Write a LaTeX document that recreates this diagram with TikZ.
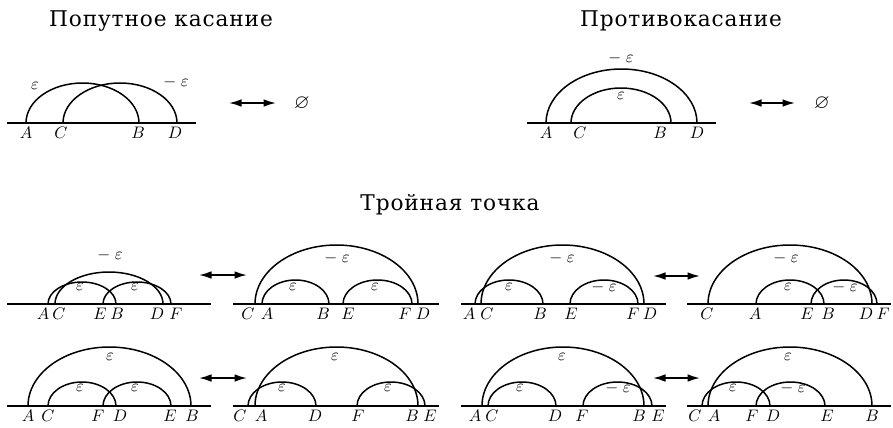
\documentclass[tikz,border=0pt]{standalone}
\usepackage{fontspec}
\usepackage{amsmath,amssymb}
\usetikzlibrary{arrows.meta,calc}
\newfontfamily\rufont{DejaVu Serif}[LetterSpace=4]
\newcommand{\halfarc}[3]{%
  \draw[curve] let \p1=(#1), \p2=(#2) in
    (#1) arc[start angle=180, end angle=0, x radius={0.5*(\x2-\x1)}, y radius={#3*0.6pt}];}
\newcommand{\me}{$-\;\varepsilon$}

\begin{document}
\begin{tikzpicture}[x=0.6pt, y=0.6pt,
  base/.style={line width=0.9pt},
  curve/.style={line width=0.9pt},
  lab/.style={anchor=north, inner sep=0pt},
  eps/.style={inner sep=0pt},
  nil/.style={inner sep=0pt, font=\large},
  swap/.style={{Latex[length=7.5pt,width=4.6pt]}-{Latex[length=7.5pt,width=4.6pt]},
    line width=1pt},
  title/.style={font=\rufont\fontsize{13}{16}\selectfont, anchor=base}]
\useasboundingbox (0,0) rectangle (893,427);

\node[title] (ttlA) at (161,401) {Попутное касание};
\node[title] (ttlB) at (681,401) {Противокасание};
\node[title] (ttlC) at (450,217) {Тройная точка};

\begin{scope}[shift={(0,304)}]
\draw[base] (7,0) -- (196,0);
\foreach \n/\x/\lx in {A/26/26, C/63/61, B/139/138, D/177/175} {
  \coordinate (tl\n) at (\x,0);
  \node[lab] (tl\n-lab) at (\lx,-4) {$\n$};
}
\halfarc{tlA}{tlB}{40}
\halfarc{tlC}{tlD}{40}
\node[eps] (tl-e1) at (35,37) {$\varepsilon$};
\node[eps] (tl-e2) at (176,41) {\me};
\coordinate (swA1) at (229,20);
\coordinate (swA2) at (276,20);
\draw[swap] (swA1) -- (swA2);
\node[nil] (nilA) at (302,20) {$\varnothing$};

\draw[base] (527,0) -- (716,0);
\foreach \n/\x/\lx in {A/546/546, C/571/580, B/671/660, D/697/697} {
  \coordinate (tr\n) at (\x,0);
  \node[lab] (tr\n-lab) at (\lx,-4) {$\n$};
}
\halfarc{trA}{trD}{54}
\halfarc{trC}{trB}{35}
\node[eps] (tr-e1) at (621,65) {\me};
\node[eps] (tr-e2) at (621,27) {$\varepsilon$};
\coordinate (swB1) at (749,20);
\coordinate (swB2) at (795,20);
\draw[swap] (swB1) -- (swB2);
\node[nil] (nilB) at (822,20) {$\varnothing$};
\end{scope}

\begin{scope}[shift={(0,123)}]
\draw[base] (7,0) -- (211,0);
\draw[base] (233,0) -- (439,0);
\draw[base] (461,0) -- (666,0);
\draw[base] (687,0) -- (891,0);
\foreach \n/\x/\lx in {A/48/43, C/55/59, E/103/100, B/116/117, D/163/157, F/171/176} {
  \coordinate (pa\n) at (\x,0);
  \node[lab] (pa\n-lab) at (\lx,-4) {$\n$};
}
\halfarc{paA}{paB}{22}
\halfarc{paE}{paF}{22}
\halfarc{paC}{paD}{32}
\node[eps] (pa-e1) at (110,49) {\me};
\node[eps] (pa-e2) at (80,17) {$\varepsilon$};
\node[eps] (pa-e3) at (135,17) {$\varepsilon$};
\foreach \n/\x/\lx in {C/255/248, A/262/267, B/329/323, E/343/348, F/412/405, D/418/423} {
  \coordinate (pb\n) at (\x,0);
  \node[lab] (pb\n-lab) at (\lx,-4) {$\n$};
}
\halfarc{pbC}{pbD}{59}
\halfarc{pbA}{pbB}{24}
\halfarc{pbE}{pbF}{24}
\node[eps] (pb-e1) at (337,46) {\me};
\node[eps] (pb-e2) at (293,17) {$\varepsilon$};
\node[eps] (pb-e3) at (375,17) {$\varepsilon$};
\coordinate (swC1) at (199,29);
\coordinate (swC2) at (247,29);
\draw[swap] (swC1) -- (swC2);
\foreach \n/\x/\lx in {A/475/469, C/481/487, B/543/540, E/570/571, F/638/633, D/644/650} {
  \coordinate (pc\n) at (\x,0);
  \node[lab] (pc\n-lab) at (\lx,-4) {$\n$};
}
\halfarc{pcC}{pcD}{59}
\halfarc{pcA}{pcB}{24}
\halfarc{pcE}{pcF}{24}
\node[eps] (pc-e1) at (562,46) {\me};
\node[eps] (pc-e2) at (509,17) {$\varepsilon$};
\node[eps] (pc-e3) at (604,17) {\me};
\foreach \n/\x/\lx in {C/708/707, A/756/755, E/811/807, B/824/828, D/872/866, F/877/883} {
  \coordinate (pd\n) at (\x,0);
  \node[lab] (pd\n-lab) at (\lx,-4) {$\n$};
}
\halfarc{pdC}{pdD}{59}
\halfarc{pdA}{pdB}{24}
\halfarc{pdE}{pdF}{24}
\node[eps] (pd-e1) at (786,46) {\me};
\node[eps] (pd-e2) at (788,17) {$\varepsilon$};
\node[eps] (pd-e3) at (845,17) {\me};
\coordinate (swD1) at (653,28);
\coordinate (swD2) at (700,28);
\draw[swap] (swD1) -- (swD2);
\end{scope}

\begin{scope}[shift={(0,21)}]
\draw[base] (7,0) -- (211,0);
\draw[base] (233,0) -- (439,0);
\draw[base] (461,0) -- (666,0);
\draw[base] (687,0) -- (891,0);
\foreach \n/\x/\lx in {A/28/28, C/48/48, F/103/98, D/116/120, E/171/170, B/191/192} {
  \coordinate (qa\n) at (\x,0);
  \node[lab] (qa\n-lab) at (\lx,-4) {$\n$};
}
\halfarc{qaA}{qaB}{59}
\halfarc{qaC}{qaD}{24}
\halfarc{qaF}{qaE}{24}
\node[eps] (qa-e1) at (110,49) {$\varepsilon$};
\node[eps] (qa-e2) at (80,18) {$\varepsilon$};
\node[eps] (qa-e3) at (135,18) {$\varepsilon$};
\foreach \n/\x/\lx in {C/248/240, A/255/261, D/316/315, F/357/358, B/418/412, E/425/430} {
  \coordinate (qb\n) at (\x,0);
  \node[lab] (qb\n-lab) at (\lx,-4) {$\n$};
}
\halfarc{qbA}{qbB}{59}
\halfarc{qbC}{qbD}{24}
\halfarc{qbF}{qbE}{24}
\node[eps] (qb-e1) at (335,49) {$\varepsilon$};
\node[eps] (qb-e2) at (282,18) {$\varepsilon$};
\node[eps] (qb-e3) at (388,18) {$\varepsilon$};
\coordinate (swE1) at (199,28);
\coordinate (swE2) at (247,28);
\draw[swap] (swE1) -- (swE2);
\foreach \n/\x/\lx in {A/482/475, C/488/492, D/556/555, F/583/582, B/644/639, E/652/658} {
  \coordinate (qc\n) at (\x,0);
  \node[lab] (qc\n-lab) at (\lx,-4) {$\n$};
}
\halfarc{qcA}{qcB}{59}
\halfarc{qcC}{qcD}{24}
\halfarc{qcF}{qcE}{24}
\node[eps] (qc-e1) at (562,49) {$\varepsilon$};
\node[eps] (qc-e2) at (520,18) {$\varepsilon$};
\node[eps] (qc-e3) at (618,18) {\me};
\foreach \n/\x/\lx in {C/702/695, A/708/714, F/756/752, D/770/773, E/825/827, B/872/872} {
  \coordinate (qd\n) at (\x,0);
  \node[lab] (qd\n-lab) at (\lx,-4) {$\n$};
}
\halfarc{qdA}{qdB}{59}
\halfarc{qdC}{qdD}{24}
\halfarc{qdF}{qdE}{24}
\node[eps] (qd-e1) at (788,49) {$\varepsilon$};
\node[eps] (qd-e2) at (733,18) {$\varepsilon$};
\node[eps] (qd-e3) at (793,18) {\me};
\coordinate (swF1) at (653,28);
\coordinate (swF2) at (700,28);
\draw[swap] (swF1) -- (swF2);
\end{scope}
\end{tikzpicture}
\end{document}
